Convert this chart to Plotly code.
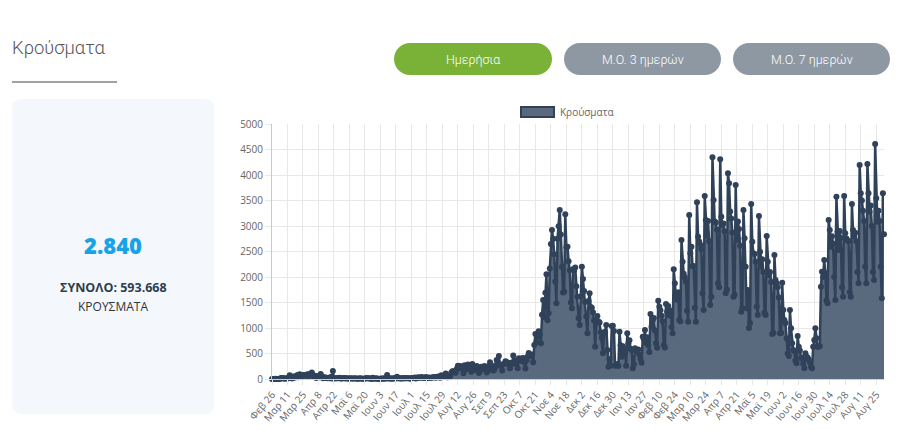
import plotly.graph_objects as go
import pandas as pd

# ---- daily cases (by month) ----
feb_2020 = [1, 2, 0, 4]
mar_2020 = [0, 0, 0, 2, 22, 14, 21, 7, 11, 16, 10, 19, 73, 38, 10, 21, 56, 31, 46, 77,
            35, 94, 71, 48, 78, 71, 72, 71, 95, 60, 93]
apr_2020 = [102, 129, 60, 62, 62, 20, 56, 31, 47, 97, 56, 17, 25, 33, 22, 17, 19, 14, 37, 12,
            156, 9, 17, 16, 15, 14, 25, 12, 10, 15]
may_2020 = [21, 10, 14, 13, 7, 12, 15, 10, 11, 8, 14, 10, 3, 5, 16, 10, 9, 7, 6, 3,
            21, 13, 16, 12, 8, 2, 23, 8, 4, 15, 12]
jun_2020 = [2, 4, 5, 10, 5, 13, 6, 15, 80, 12, 8, 15, 3, 8, 12, 18, 10, 45, 14, 14,
            11, 9, 20, 10, 20, 16, 13, 14, 15, 7]
jul_2020 = [14, 19, 18, 27, 8, 22, 35, 23, 26, 37, 28, 18, 20, 40, 13, 28, 26, 26, 23, 27,
            40, 33, 25, 40, 47, 36, 23, 75, 57, 41, 43]
aug_2020 = [110, 32, 36, 37, 53, 124, 153, 151, 126, 122, 202, 262, 205, 254, 230, 217, 115, 269, 186, 241,
            284, 228, 226, 143, 293, 174, 211, 189, 253, 168, 116]
sep_2020 = [158, 239, 201, 206, 253, 190, 129, 244, 176, 327, 223, 241, 169, 190, 270, 372, 267, 453, 284, 261,
            168, 288, 306, 350, 335, 318, 285, 212, 321, 300]
oct_2020 = [460, 304, 311, 365, 213, 408, 354, 368, 405, 414, 327, 205, 367, 442, 508, 458, 460, 479, 327, 665,
            882, 727, 838, 935, 865, 700, 1259, 1547, 1211, 1690, 2056]
nov_2020 = [1152, 1288, 2166, 2646, 2922, 2752, 2448, 1914, 1484, 2752, 2997, 3316, 2835, 2198, 1695, 1712, 3229, 2581, 2595, 2311,
            2131, 1498, 1386, 2152, 2137, 2186, 1820, 1615, 1193, 1059]
dec_2020 = [1616, 2203, 1961, 1727, 1509, 1224, 895, 1531, 1680, 1411, 1395, 1310, 1145, 634, 1104, 1235, 1125, 1110, 916, 810,
            503, 883, 928, 1058, 571, 242, 385, 262, 1039, 1045, 941]
jan_2021 = [262, 275, 296, 254, 928, 663, 438, 644, 598, 529, 262, 895, 699, 760, 592, 564, 209, 290, 603, 542,
            556, 579, 482, 390, 321, 830, 781, 960, 711, 820, 662]
feb_2021 = [529, 1275, 1025, 1141, 1197, 953, 700, 612, 1536, 1418, 1348, 1241, 1134, 667, 616, 1471, 1320, 1429, 1247, 1341,
            1015, 895, 2150, 1876, 1631, 1552, 1700, 1157]
mar_2021 = [1130, 2725, 2300, 2064, 1994, 1910, 1339, 1124, 3216, 2464, 2592, 2213, 2216, 1397, 1124, 3464, 2791, 2694, 2631, 2545,
            1680, 1353, 3588, 3118, 2810, 3100, 2700, 1451, 1614, 4346, 3510]
apr_2021 = [3089, 3071, 2926, 1876, 1800, 4307, 3183, 3013, 3048, 2897, 1680, 1750, 4033, 3837, 3286, 3149, 2871, 1614, 1650, 3804,
            2725, 3090, 2943, 2614, 1320, 1386, 3314, 2758, 2203, 1386]
may_2021 = [1745, 1000, 1100, 3431, 2693, 2465, 2450, 2300, 1418, 1255, 3196, 2497, 2203, 2350, 2100, 1300, 1255, 2804, 2301, 2039,
            2100, 1900, 882, 900, 2431, 1941, 1876, 1800, 1600, 895, 900]
jun_2021 = [1889, 1353, 1157, 1100, 797, 500, 450, 1353, 993, 700, 569, 550, 360, 307, 843, 634, 560, 405, 420, 300,
            209, 503, 438, 420, 380, 330, 240, 209, 634, 765]
jul_2021 = [993, 800, 634, 634, 640, 1810, 2105, 2000, 2333, 2078, 1541, 1484, 3118, 2922, 2595, 2800, 2650, 2000, 1549, 3575,
            2889, 2529, 2900, 2766, 1800, 1614, 3588, 2856, 2755, 2714, 2700]
aug_2021 = [1700, 1614, 3431, 2922, 2800, 2870, 2700, 2100, 1876, 4196, 3641, 3500, 3300, 3100, 2200, 1876, 4216, 3641, 3281, 3400,
            3000, 2100, 1941, 4608, 3542, 3085, 3300, 3100, 2200, 1582, 3641]
sep_2021 = [2840]

tick_labels = ["Φεβ 26", "Μαρ 11", "Μαρ 25", "Απρ 8", "Απρ 22", "Μαϊ 6", "Μαϊ 20", "Ιουν 3", "Ιουν 17",
               "Ιουλ 1", "Ιουλ 15", "Ιουλ 29", "Αυγ 12", "Αυγ 26", "Σεπ 9", "Σεπ 23", "Οκτ 7", "Οκτ 21",
               "Νοε 4", "Νοε 18", "Δεκ 2", "Δεκ 16", "Δεκ 30", "Ιαν 13", "Ιαν 27", "Φεβ 10", "Φεβ 24",
               "Μαρ 10", "Μαρ 24", "Απρ 7", "Απρ 21", "Μαϊ 5", "Μαϊ 19", "Ιουν 2", "Ιουν 16", "Ιουν 30",
               "Ιουλ 14", "Ιουλ 28", "Αυγ 11", "Αυγ 25"]
y_ticks = [0, 500, 1000, 1500, 2000, 2500, 3000, 3500, 4000, 4500, 5000]

latest_value = "2.840"
total_text = "ΣΥΝΟΛΟ: 593.668"

daily_cases = (feb_2020 + mar_2020 + apr_2020 + may_2020 + jun_2020 + jul_2020 + aug_2020 +
               sep_2020 + oct_2020 + nov_2020 + dec_2020 + jan_2021 + feb_2021 + mar_2021 +
               apr_2021 + may_2021 + jun_2021 + jul_2021 + aug_2021 + sep_2021)
dates = pd.date_range("2020-02-26", periods=len(daily_cases), freq="D")
tick_vals = list(dates[::14][:len(tick_labels)])

# ---- geometry (pixels) ----
W, H = 900, 430
L, R, T, B = 272, 884, 124, 379


def px(x):
    return (x - L) / (R - L)


def py(y):
    return (B - y) / (B - T)


def rrect_path(x0, y0, x1, y1, r):
    k = 0.5523 * r
    pts = [
        ("M", [(x0 + r, y0)]),
        ("L", [(x1 - r, y0)]),
        ("C", [(x1 - r + k, y0), (x1, y0 + r - k), (x1, y0 + r)]),
        ("L", [(x1, y1 - r)]),
        ("C", [(x1, y1 - r + k), (x1 - r + k, y1), (x1 - r, y1)]),
        ("L", [(x0 + r, y1)]),
        ("C", [(x0 + r - k, y1), (x0, y1 - r + k), (x0, y1 - r)]),
        ("L", [(x0, y0 + r)]),
        ("C", [(x0, y0 + r - k), (x0 + r - k, y0), (x0 + r, y0)]),
    ]
    s = ""
    for cmd, ps in pts:
        s += cmd + " " + " ".join(f"{px(a):.5f},{py(b):.5f}" for a, b in ps) + " "
    return s + "Z"


fig = go.Figure()
fig.add_trace(go.Scatter(
    x=dates, y=daily_cases, mode="lines+markers", name="Κρούσματα",
    line=dict(color="#2f4259", width=2.5),
    marker=dict(color="#2f4259", size=6),
    fill="tozeroy", fillcolor="#5a6a7e",
    showlegend=False, cliponaxis=False,
))

shapes = []
# card
shapes.append(dict(type="path", xref="paper", yref="paper",
                   path=rrect_path(12, 99, 214, 414, 9),
                   fillcolor="#f4f8fc", line=dict(width=0), layer="below"))
# buttons
buttons = [("Ημερήσια", 394, 552, "#7ab238"),
           ("Μ.Ο. 3 ημερών", 564, 721, "#8e98a3"),
           ("Μ.Ο. 7 ημερών", 733, 890, "#8e98a3")]
for label, bx0, bx1, col in buttons:
    shapes.append(dict(type="path", xref="paper", yref="paper",
                       path=rrect_path(bx0, 43, bx1, 75, 16),
                       fillcolor=col, line=dict(width=0)))
# title underline
shapes.append(dict(type="line", xref="paper", yref="paper",
                   x0=px(12), x1=px(117), y0=py(82), y1=py(82),
                   line=dict(color="#444444", width=1)))
# legend swatch
shapes.append(dict(type="rect", xref="paper", yref="paper",
                   x0=px(521), x1=px(554), y0=py(117), y1=py(107),
                   fillcolor="#5a6a7e", line=dict(color="#2f4259", width=2)))

annotations = []
annotations.append(dict(text="Κρούσματα", x=px(10), y=py(48), xref="paper", yref="paper",
                        xanchor="left", yanchor="middle", showarrow=False,
                        font=dict(family="Roboto", size=18.5, color="#555555", weight=300)))
for label, bx0, bx1, col in buttons:
    annotations.append(dict(text=label, x=px((bx0 + bx1) / 2), y=py(59), xref="paper", yref="paper",
                            xanchor="center", yanchor="middle", showarrow=False,
                            font=dict(family="Roboto", size=12.5, color="#ffffff", weight=300)))
annotations.append(dict(text=latest_value, x=px(113), y=py(245), xref="paper", yref="paper",
                        xanchor="center", yanchor="middle", showarrow=False,
                        font=dict(family="Open Sans", size=22, color="#18a3e6", weight=800)))
annotations.append(dict(text=total_text, x=px(113), y=py(287), xref="paper", yref="paper",
                        xanchor="center", yanchor="middle", showarrow=False,
                        font=dict(family="Open Sans", size=12.5, color="#2c3e50", weight=700)))
annotations.append(dict(text="ΚΡΟΥΣΜΑΤΑ", x=px(113), y=py(306), xref="paper", yref="paper",
                        xanchor="center", yanchor="middle", showarrow=False,
                        font=dict(family="Open Sans", size=12, color="#333333")))
annotations.append(dict(text="Κρούσματα", x=px(558), y=py(112), xref="paper", yref="paper",
                        xanchor="left", yanchor="middle", showarrow=False,
                        font=dict(family="Open Sans", size=10, color="#666666")))

fig.update_layout(
    width=W, height=H,
    margin=dict(l=L, r=W - R, t=T, b=H - B, pad=0, autoexpand=False),
    paper_bgcolor="#ffffff", plot_bgcolor="#ffffff",
    shapes=shapes, annotations=annotations,
    font=dict(family="Open Sans", size=10, color="#666666"),
)
fig.update_xaxes(
    range=[dates[0], dates[-1]], automargin=False,
    tickmode="array", tickvals=tick_vals, ticktext=tick_labels,
    tickangle=-50, tickfont=dict(size=10, color="#666666"),
    showgrid=True, gridcolor="#e8e8e8", gridwidth=1,
    ticks="outside", ticklen=5, tickcolor="#e8e8e8",
    showline=True, linecolor="#d0d0d0", linewidth=1,
    zeroline=False,
)
fig.update_yaxes(
    range=[0, 5000], tickmode="array", tickvals=y_ticks, automargin=False,
    tickfont=dict(size=10, color="#666666"),
    showgrid=True, gridcolor="#e8e8e8", gridwidth=1,
    ticks="outside", ticklen=6, tickcolor="#e8e8e8",
    showline=True, linecolor="#c8c8c8", linewidth=1,
    zeroline=False,
)

fig.write_html("out.html")
